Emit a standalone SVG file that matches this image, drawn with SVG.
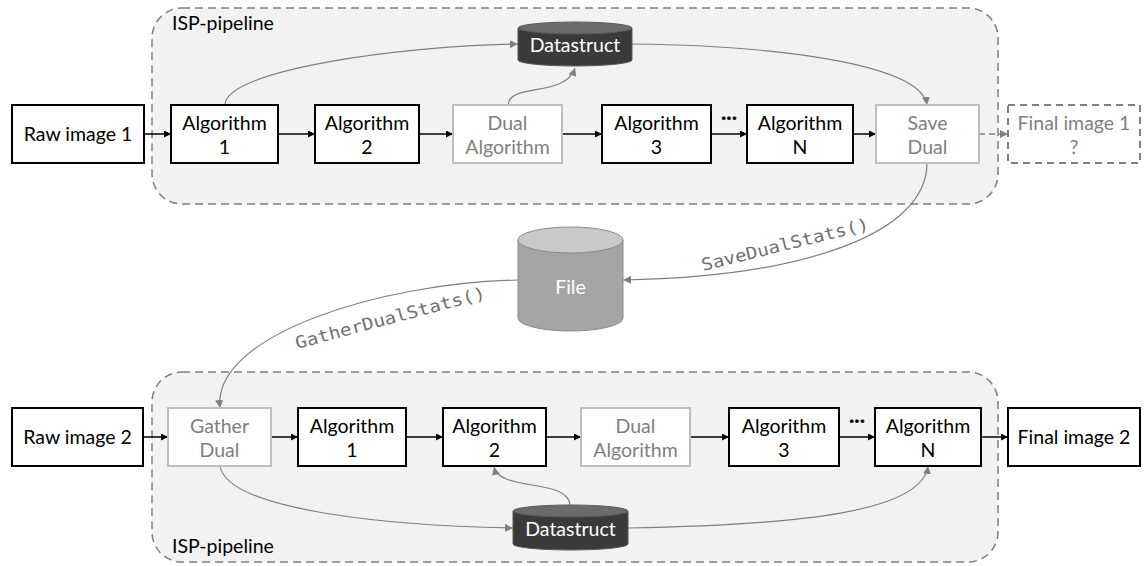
<svg xmlns="http://www.w3.org/2000/svg" width="1147" height="566" viewBox="0 0 1147 566">
<style>
.cont{fill:#f2f2f2;stroke:#7f7f7f;stroke-width:1.5;stroke-dasharray:8 5}
.box{fill:#fff;stroke:#000;stroke-width:2}
.gbox{fill:#fff;stroke:#bfbfbf;stroke-width:2}
.dbox{fill:#fff;stroke:#7f7f7f;stroke-width:2;stroke-dasharray:7 5}
.t{font-family:Lato,"Open Sans",sans-serif;font-size:19.5px;fill:#000;text-anchor:middle}
.tg{fill:#808080}
.tw{fill:#fff}
.lbl{font-family:Lato,"Open Sans",sans-serif;font-size:19.5px;fill:#000}
.mono{font-family:"DejaVu Sans Mono","Liberation Mono",monospace;font-size:17px;fill:#707070}
.c{fill:none;stroke:#000;stroke-width:1.5;marker-end:url(#ab)}
.cd{fill:none;stroke:#7f7f7f;stroke-width:1.5;stroke-dasharray:6 4;marker-end:url(#ag)}
.cg{fill:none;stroke:#7f7f7f;stroke-width:1.2;marker-end:url(#ag)}
</style>
<defs>
<marker id="ab" viewBox="0 0 10 10" refX="10" refY="5" markerWidth="7" markerHeight="7" markerUnits="userSpaceOnUse" orient="auto"><path d="M0,0L10,5L0,10z" fill="#000"/></marker>
<marker id="ag" viewBox="0 0 10 10" refX="10" refY="5" markerWidth="8" markerHeight="8" markerUnits="userSpaceOnUse" orient="auto"><path d="M0,0L10,5L0,10z" fill="#7f7f7f"/></marker>
</defs>
<rect width="1147" height="566" fill="#fff"/>
<g id="pipeline1"><rect class="cont" x="152" y="8" width="846" height="196" rx="30"/><text class="lbl" x="172" y="30">ISP-pipeline</text></g>
<g id="pipeline2"><rect class="cont" x="152" y="372" width="846" height="190" rx="30"/><text class="lbl" x="172" y="553">ISP-pipeline</text></g>

<g id="connectors">
<path class="c" d="M144,134H171"/>
<path class="c" d="M278,134H315"/>
<path class="c" d="M419,134H453"/>
<path class="c" d="M562,134H602"/>
<path class="c" d="M711,134H747"/>
<path class="c" d="M853,134H876"/>
<path class="cd" d="M979,134H1008"/>
<path class="cg" d="M225,105C225,70 400,46 518,44"/>
<path class="cg" d="M508,105C510,82 565,98 575,68"/>
<path class="cg" d="M632,44C800,46 922,68 927,105"/>
<path class="cg" d="M927,163C927,235 800,277 623,280"/>
<path class="cg" d="M518,280C380,283 212,335 220,408"/>
<path class="c" d="M143,437H168"/>
<path class="c" d="M271,437H298"/>
<path class="c" d="M406,437H443"/>
<path class="c" d="M546,437H581"/>
<path class="c" d="M690,437H729"/>
<path class="c" d="M839,437H875"/>
<path class="c" d="M981,437H1008"/>
<path class="cg" d="M220,466C228,512 400,526 513,528"/>
<path class="cg" d="M570,505C568,478 500,492 494,467"/>
<path class="cg" d="M628,528C800,525 922,512 928,466"/>
<text class="mono" transform="translate(703,271) rotate(-14)" textLength="172" lengthAdjust="spacingAndGlyphs">SaveDualStats()</text>
<text class="mono" transform="translate(297,349) rotate(-15)" textLength="196" lengthAdjust="spacingAndGlyphs">GatherDualStats()</text>
<text class="t" x="729" y="124" font-weight="bold">···</text>
<text class="t" x="857" y="427" font-weight="bold">···</text>
</g>

<g id="raw1"><rect class="box" x="12" y="105" width="132" height="58"/><text class="t" x="78" y="141">Raw image 1</text></g>
<g id="alg1a"><rect class="box" x="171" y="105" width="107" height="58"/><text class="t" x="224.5" y="130">Algorithm</text><text class="t" x="224.5" y="154">1</text></g>
<g id="alg2a"><rect class="box" x="315" y="105" width="104" height="58"/><text class="t" x="367" y="130">Algorithm</text><text class="t" x="367" y="154">2</text></g>
<g id="duala"><rect class="gbox" x="453" y="105" width="109" height="58"/><text class="t tg" x="507.5" y="130">Dual</text><text class="t tg" x="507.5" y="154">Algorithm</text></g>
<g id="alg3a"><rect class="box" x="602" y="105" width="109" height="58"/><text class="t" x="656.5" y="130">Algorithm</text><text class="t" x="656.5" y="154">3</text></g>
<g id="algNa"><rect class="box" x="747" y="105" width="106" height="58"/><text class="t" x="800" y="130">Algorithm</text><text class="t" x="800" y="154">N</text></g>
<g id="savedual"><rect class="gbox" x="876" y="105" width="103" height="58"/><text class="t tg" x="927.5" y="130">Save</text><text class="t tg" x="927.5" y="154">Dual</text></g>
<g id="final1"><rect class="dbox" x="1008" y="105" width="132" height="58"/><text class="t tg" x="1074" y="130">Final image 1</text><text class="t tg" x="1074" y="154">?</text></g>
<g id="datastruct1"><path d="M518,28V60A57,6 0 0 0 632,60V28" fill="#3a3a3a" stroke="#595959"/><ellipse cx="575" cy="28" rx="57" ry="6" fill="#6b6b6b" stroke="#595959"/><text class="t tw" x="575" y="52">Datastruct</text></g>
<g id="file"><path d="M518,240V318A52.5,13 0 0 0 623,318V240" fill="#a5a5a5" stroke="#8a8a8a"/><ellipse cx="570.5" cy="240" rx="52.5" ry="13" fill="#c9c9c9" stroke="#8a8a8a"/><text class="t tw" x="570.5" y="294">File</text></g>

<g id="raw2"><rect class="box" x="12" y="408" width="131" height="58"/><text class="t" x="77.5" y="444">Raw image 2</text></g>
<g id="gather"><rect class="gbox" x="168" y="408" width="103" height="58"/><text class="t tg" x="219.5" y="433">Gather</text><text class="t tg" x="219.5" y="457">Dual</text></g>
<g id="alg1b"><rect class="box" x="298" y="408" width="108" height="58"/><text class="t" x="352" y="433">Algorithm</text><text class="t" x="352" y="457">1</text></g>
<g id="alg2b"><rect class="box" x="443" y="408" width="103" height="58"/><text class="t" x="494.5" y="433">Algorithm</text><text class="t" x="494.5" y="457">2</text></g>
<g id="dualb"><rect class="gbox" x="581" y="408" width="109" height="58"/><text class="t tg" x="635.5" y="433">Dual</text><text class="t tg" x="635.5" y="457">Algorithm</text></g>
<g id="alg3b"><rect class="box" x="729" y="408" width="110" height="58"/><text class="t" x="784" y="433">Algorithm</text><text class="t" x="784" y="457">3</text></g>
<g id="algNb"><rect class="box" x="875" y="408" width="106" height="58"/><text class="t" x="928" y="433">Algorithm</text><text class="t" x="928" y="457">N</text></g>
<g id="final2"><rect class="box" x="1008" y="408" width="132" height="58"/><text class="t" x="1074" y="444">Final image 2</text></g>
<g id="datastruct2"><path d="M513,511V544A57.5,6 0 0 0 628,544V511" fill="#3a3a3a" stroke="#595959"/><ellipse cx="570.5" cy="511" rx="57.5" ry="6" fill="#6b6b6b" stroke="#595959"/><text class="t tw" x="570.5" y="536">Datastruct</text></g>
</svg>
